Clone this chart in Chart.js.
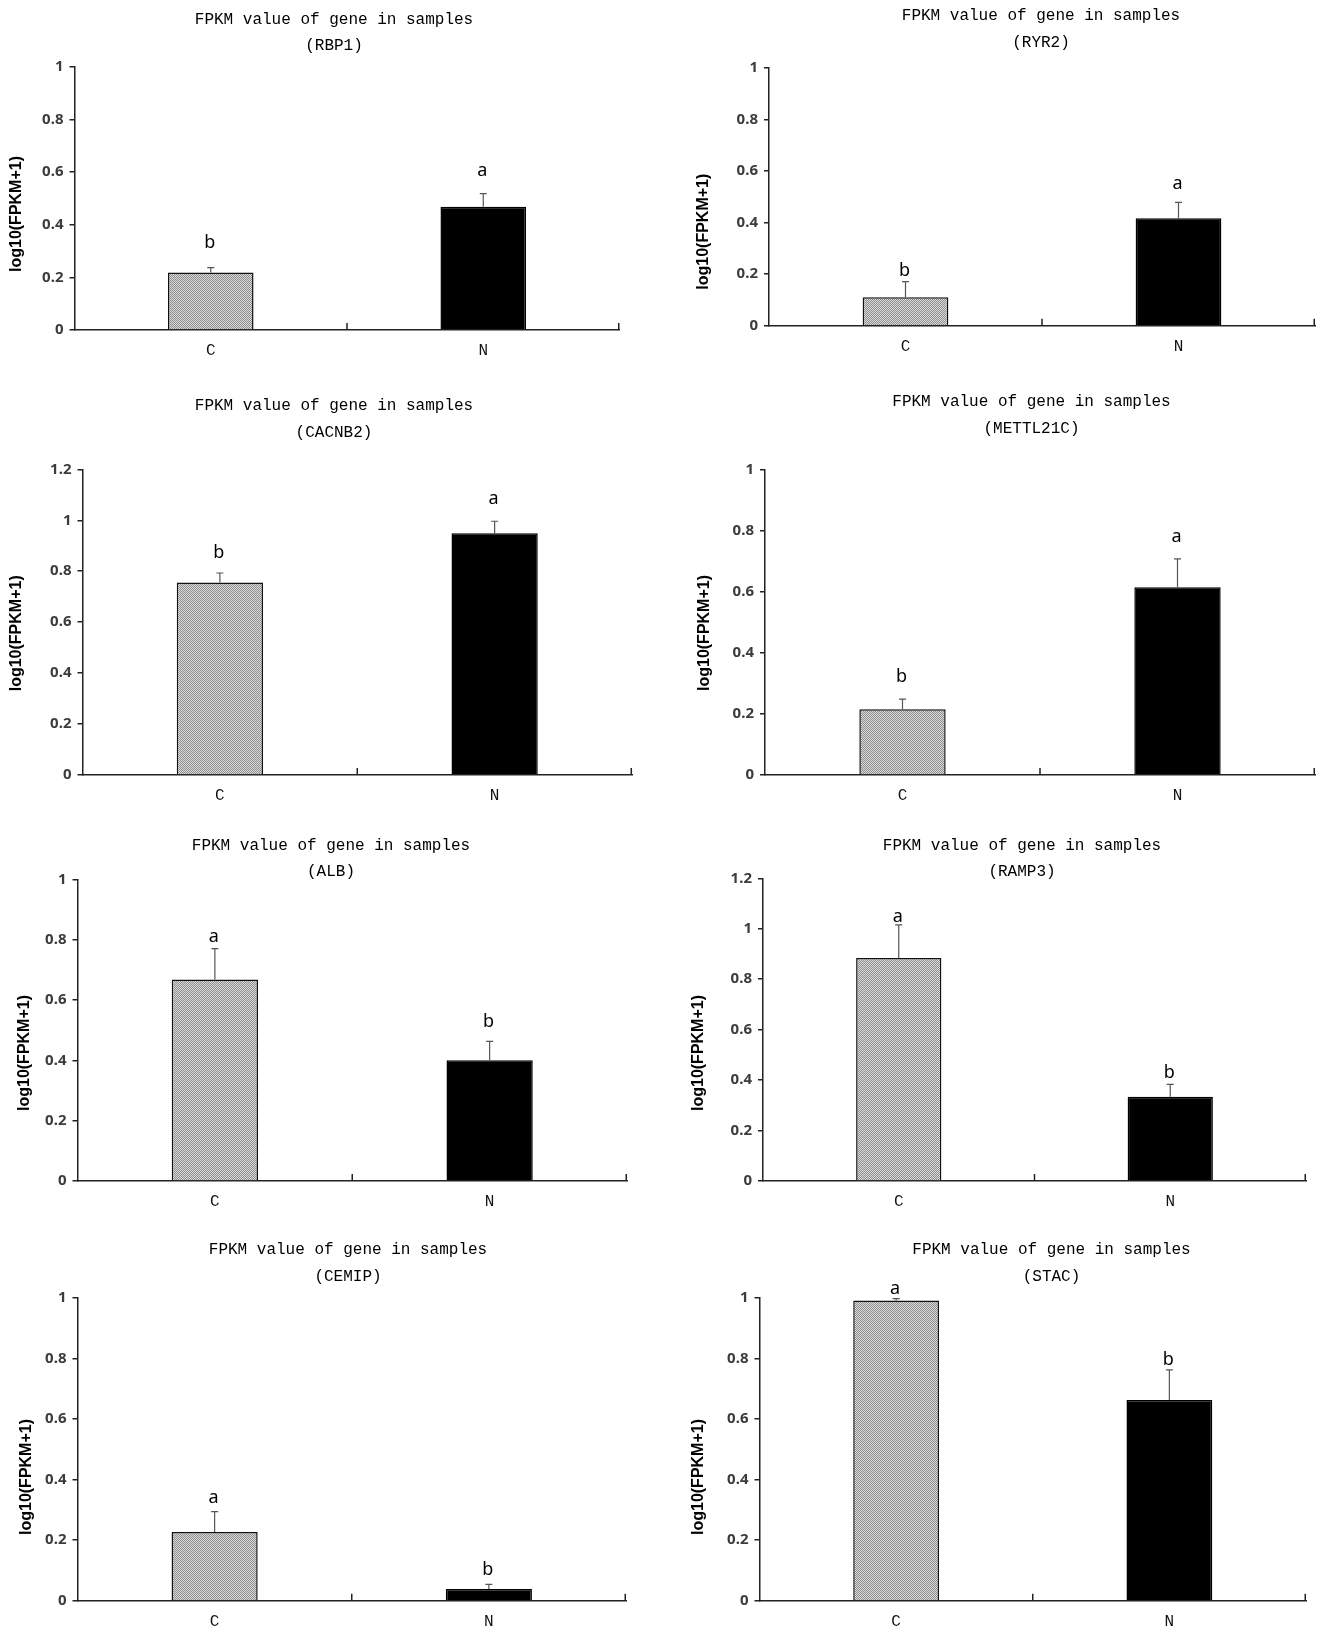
<!DOCTYPE html>
<html>
<head>
<meta charset="utf-8">
<script src="https://cdn.jsdelivr.net/npm/chart.js@4.4.1/dist/chart.umd.min.js"></script>
<style>
  html, body { margin: 0; padding: 0; background: #fff; width: 1323px; height: 1637px; overflow: hidden; position: relative; }
  canvas { position: absolute; }
</style>
</head>
<body>
<script>
// values
const genes = ['RBP1', 'RYR2', 'CACNB2', 'METTL21C', 'ALB', 'RAMP3', 'CEMIP', 'STAC'];
const groups = ['C', 'N'];
const meanC = [0.218, 0.110, 0.756, 0.215, 0.668, 0.884, 0.227, 0.991];
const meanN = [0.468, 0.416, 0.949, 0.614, 0.400, 0.334, 0.0385, 0.662];
const errC = [0.019, 0.061, 0.037, 0.033, 0.102, 0.131, 0.067, 0.006];
const errN = [0.050, 0.062, 0.047, 0.093, 0.063, 0.049, 0.0155, 0.100];
const lettersC = ['b', 'b', 'b', 'b', 'a', 'a', 'a', 'a'];
const lettersN = ['a', 'a', 'a', 'a', 'b', 'b', 'b', 'b'];
const yMax = [1, 1, 1.2, 1, 1, 1.2, 1, 1];

// page layout of each panel: plot area [left, right, top, bottom]
const plotBoxes = [
  [74.5, 619.5, 66.7, 330],
  [769, 1315, 67.7, 325.7],
  [82.5, 632, 469.3, 775],
  [765, 1315, 469.3, 775],
  [77.5, 627, 879.3, 1181],
  [763, 1306, 878.3, 1181],
  [77.5, 626, 1297.7, 1600.7],
  [759.5, 1306, 1297.7, 1600.7]
];
// title centre x and line y's
const titlePos = [
  [334, 19.3, 45.7], [1041, 15.7, 42.3],
  [334, 406, 432.7], [1031.5, 401.7, 428.3],
  [331, 846, 871.7], [1022, 846, 872],
  [348, 1250, 1276.7], [1051.5, 1250, 1276.7]
];
// y-axis title centre
const yTitlePos = [
  [17, 214], [703.8, 231.7],
  [17, 633.3], [704.7, 633],
  [24.3, 1053], [699, 1053],
  [26.4, 1477], [699, 1477]
];
// distance from error bar top to letter centre
const letterGap = [[25, 23], [11, 19], [20, 22], [22, 22], [12, 19], [8, 12], [14, 14], [10, 10]];

const TITLE_FONT = '16px "Liberation Mono", monospace';
const YTITLE_FONT = 'bold 16px "Liberation Sans", Arial, sans-serif';
const LETTER_FONT = '18px "Noto Sans", "Liberation Sans", sans-serif';

function makePattern() {
  const p = document.createElement('canvas');
  p.width = 2; p.height = 2;
  const c = p.getContext('2d');
  c.fillStyle = '#dadada'; c.fillRect(0, 0, 2, 2);
  c.fillStyle = '#8e8e8e'; c.fillRect(0, 0, 1, 1); c.fillRect(1, 1, 1, 1);
  return c.createPattern(p, 'repeat');
}
const grayPattern = makePattern();

genes.forEach((gene, k) => {
  const [L, R, T, B] = plotBoxes[k];
  const cl = Math.round(L - 76);
  const ct = Math.round(T - 80);
  const cw = Math.ceil(R - cl + 6);
  const ch = Math.ceil(B - ct + 40);

  const canvas = document.createElement('canvas');
  canvas.width = cw; canvas.height = ch;
  canvas.style.left = cl + 'px';
  canvas.style.top = ct + 'px';
  canvas.style.width = cw + 'px';
  canvas.style.height = ch + 'px';
  document.body.appendChild(canvas);

  const means = [meanC[k], meanN[k]];
  const errs = [errC[k], errN[k]];
  const letters = [lettersC[k], lettersN[k]];

  const annotations = {
    id: 'annotations',
    afterDatasetsDraw(chart) {
      const ctx = chart.ctx;
      const y = chart.scales.y;
      const meta = chart.getDatasetMeta(0);
      ctx.save();
      meta.data.forEach((bar, i) => {
        const top = y.getPixelForValue(means[i]);
        const eTop = y.getPixelForValue(means[i] + errs[i]);
        ctx.strokeStyle = '#555';
        ctx.lineWidth = 1.2;
        ctx.beginPath();
        ctx.moveTo(bar.x, top);
        ctx.lineTo(bar.x, eTop);
        ctx.moveTo(bar.x - 3.5, eTop);
        ctx.lineTo(bar.x + 3.5, eTop);
        ctx.stroke();
        ctx.fillStyle = '#000';
        ctx.font = LETTER_FONT;
        ctx.textAlign = 'center';
        ctx.textBaseline = 'middle';
        ctx.fillText(letters[i], bar.x - 1, eTop - letterGap[k][i]);
      });
      ctx.restore();
    },
    afterDraw(chart) {
      const ctx = chart.ctx;
      const x = chart.scales.x;
      const area = chart.chartArea;
      ctx.save();
      // upward ticks at category boundaries
      const mid = (x.getPixelForValue(0) + x.getPixelForValue(1)) / 2;
      ctx.strokeStyle = '#222';
      ctx.lineWidth = 1.5;
      ctx.beginPath();
      [mid, area.right - 0.75].forEach(px => {
        ctx.moveTo(px, area.bottom);
        ctx.lineTo(px, area.bottom - 7);
      });
      ctx.stroke();
      // title
      const [tcx, ty1, ty2] = titlePos[k];
      ctx.fillStyle = '#000';
      ctx.font = TITLE_FONT;
      ctx.textAlign = 'center';
      ctx.textBaseline = 'middle';
      ctx.fillText('FPKM value of gene in samples', tcx - cl, ty1 - ct);
      ctx.fillText('(' + gene + ')', tcx - cl, ty2 - ct);
      // y axis title
      const [yx, yy] = yTitlePos[k];
      ctx.translate(yx - cl, yy - ct);
      ctx.rotate(-Math.PI / 2);
      ctx.font = YTITLE_FONT;
      ctx.fillText('log10(FPKM+1)', 0, 0);
      ctx.restore();
    }
  };

  new Chart(canvas, {
    type: 'bar',
    data: {
      labels: groups,
      datasets: [{
        data: means,
        backgroundColor: [grayPattern, '#000'],
        borderColor: ['#111', '#000'],
        borderWidth: 1.5,
        categoryPercentage: 1,
        barPercentage: 0.314
      }]
    },
    options: {
      responsive: false,
      animation: false,
      layout: { padding: { left: 0, top: T - ct, right: cw - (R - cl), bottom: 0 } },
      plugins: { legend: { display: false }, tooltip: { enabled: false } },
      scales: {
        x: {
          grid: { display: false, drawTicks: false },
          border: { display: true, color: '#222', width: 1.5 },
          ticks: { color: '#111', font: { family: '"Liberation Mono", monospace', size: 16 }, padding: 11 },
          afterFit(s) { s.height = ch - (B - ct); s.paddingLeft = 0; s.paddingRight = 0; }
        },
        y: {
          min: 0,
          max: yMax[k],
          ticks: {
            stepSize: 0.2,
            color: '#3c3c3c',
            padding: 6,
            font: { family: '"Noto Sans", "Liberation Sans", sans-serif', size: 15, weight: 'bold' },
            callback: v => String(+v.toFixed(1))
          },
          grid: { drawOnChartArea: false, drawTicks: true, tickLength: 5, color: '#222', lineWidth: 1.5 },
          border: { display: true, color: '#222', width: 1.5 },
          afterFit(s) { s.width = L - cl; s.paddingTop = 0; s.paddingBottom = 0; }
        }
      }
    },
    plugins: [annotations]
  });
});
</script>
</body>
</html>
